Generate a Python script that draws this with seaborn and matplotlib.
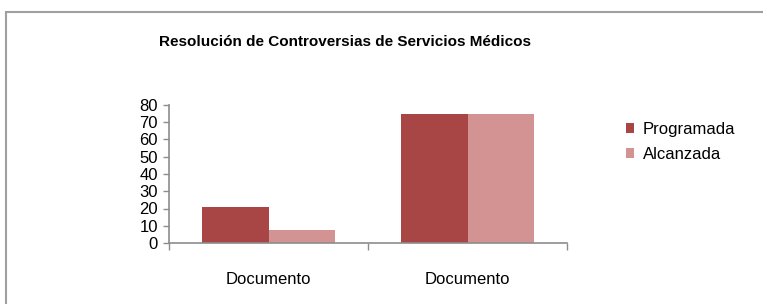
import pandas as pd
import matplotlib.pyplot as plt
import seaborn as sns
from matplotlib.patches import Rectangle

# data
categorias = ["Documento", "Documento"]
series = ["Programada", "Alcanzada"]
programada = [21, 75]
alcanzada = [7.5, 75]
colores = ["#A84645", "#D49393"]

df = pd.DataFrame({
    "grupo": [0, 1, 0, 1],
    "serie": [series[0]] * 2 + [series[1]] * 2,
    "valor": programada + alcanzada,
})

sns.set_style("white")
plt.rcParams["font.family"] = ["Liberation Sans", "DejaVu Sans"]
plt.rcParams["text.color"] = "black"
plt.rcParams["xtick.labelcolor"] = "black"
plt.rcParams["ytick.labelcolor"] = "black"

fig = plt.figure(figsize=(7.63, 3.04), dpi=100)
ax = fig.add_axes([169 / 763, 61 / 304, 398 / 763, 138 / 304])

sns.barplot(data=df, x="grupo", y="valor", hue="serie", hue_order=series,
            palette=colores, width=0.67, ax=ax, saturation=1, linewidth=0)

ax.set_xlim(-0.5, 1.5)
ax.set_ylim(0, 80)
ax.set_yticks(range(0, 81, 10))
ax.set_xlabel("")
ax.set_ylabel("")

gris = "#8C8C8C"
for s in ["top", "right"]:
    ax.spines[s].set_visible(False)
for s in ["left", "bottom"]:
    ax.spines[s].set_color(gris)
    ax.spines[s].set_linewidth(1.2)

ax.tick_params(axis="y", length=4, color=gris, width=1, labelsize=12, pad=4, left=True,
               labelcolor="black")
ax.set_xticks([-0.5, 0.5, 1.5])
ax.set_xticklabels([])
ax.tick_params(axis="x", which="major", length=5, color=gris, width=1, direction="out", bottom=True)
ax.xaxis.set_ticks_position("bottom")
ax.set_xticks([0, 1], minor=True)
ax.set_xticklabels(categorias, minor=True)
ax.tick_params(axis="x", which="minor", length=0, labelsize=12, pad=21, labelcolor="black")

# legend
h, l = ax.get_legend_handles_labels()
ax.legend(h, l, loc="upper left", bbox_to_anchor=(611 / 763, 1 - 107 / 304),
          bbox_transform=fig.transFigure, frameon=False, fontsize=12, labelcolor="black",
          handlelength=0.5, handleheight=0.5, handletextpad=0.5, labelspacing=0.6)

fig.text(345 / 763, 1 - 42 / 304, "Resolución de Controversias de Servicios Médicos",
         ha="center", va="center", fontsize=11, fontweight="bold", color="black")

# chart area border
fig.patches.append(Rectangle((6 / 763, -0.2), 1.2, 1.2 - 12 / 304, transform=fig.transFigure,
                             fill=False, edgecolor="#A0A0A0", linewidth=1.5))

fig.savefig("out.png", dpi=100)
